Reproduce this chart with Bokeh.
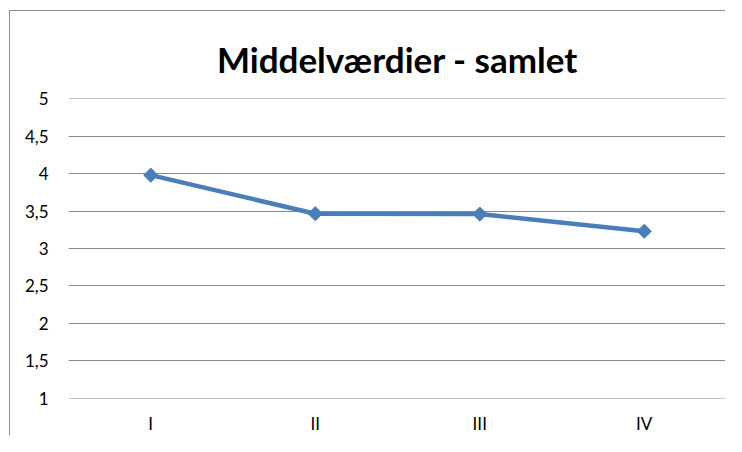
import math
from bokeh.plotting import figure
from bokeh.models import FixedTicker, CustomJSTickFormatter, Range1d
from bokeh.embed import file_html
from bokeh.resources import INLINE

title_text = "Middelværdier - samlet"
categories = ["I", "II", "III", "IV"]
values = [3.98, 3.465, 3.46, 3.23]
y_ticks = [1, 1.5, 2, 2.5, 3, 3.5, 4, 4.5, 5]

p = figure(x_range=categories, y_range=Range1d(0.996, 5.004), width=716, height=425,
           output_backend="svg", toolbar_location=None, title=title_text,
           min_border_left=58, min_border_right=0, min_border_top=87, min_border_bottom=29)
p.styles = {"margin-left": "9px", "margin-top": "10px",
            "border-left": "1px solid #8f8f8f", "border-top": "1px solid #8f8f8f"}

p.title.text_font = "Lato"
p.title.text_font_size = "35px"
p.title.text_font_style = "bold"
p.title.align = "center"
p.title.text_color = "black"
p.title.offset = -10
p.title.standoff = 38

p.outline_line_color = None
p.xgrid.grid_line_color = None
p.ygrid.grid_line_color = "#8a8a8a"
p.ygrid.grid_line_width = 1

p.yaxis.ticker = FixedTicker(ticks=y_ticks)
p.yaxis.formatter = CustomJSTickFormatter(code="return tick.toString().replace('.', ',');")
for ax in (p.xaxis, p.yaxis):
    ax.axis_line_color = None
    ax.major_tick_line_color = None
    ax.minor_tick_line_color = None
    ax.major_label_text_font = "Lato"
    ax.major_label_text_font_size = "17px"
    ax.major_label_text_color = "black"
p.yaxis.major_label_standoff = 14
p.xaxis.major_label_standoff = 8

p.line(categories, values, line_color="#4a7ebb", line_width=4.5, line_join="round")
p.scatter(categories, values, marker="square", angle=math.pi / 4, size=10,
          fill_color="#4a7ebb", line_color="#4a7ebb")

open("out.html", "w").write(file_html(p, INLINE))
